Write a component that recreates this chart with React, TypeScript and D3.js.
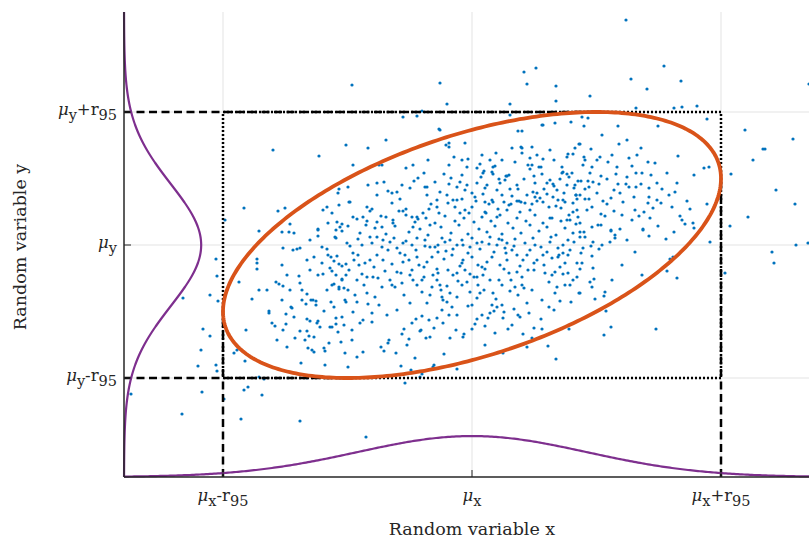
import React from "react";
import * as d3 from "d3";

// Bivariate sample (centred units: x and y measured from their means)
const samples: [number, number][] = [
  [-1.99, 0.95], [-1.53, 0.89], [-1.26, 1.0], [-2.28, 0.37], [-1.94, 0.34], [-1.87, 0.37], [-1.82, 0.21],
  [-2.47, 0.25], [-1.49, 0.35], [-1.45, 0.38], [-1.4, 0.32], [-1.34, 0.52], [-1.33, 0.56], [-1.33, 0.4],
  [-1.24, 0.58], [-1.23, 0.43], [-1.35, 0.23], [-1.3, 0.21], [-1.32, 0.18], [-1.24, 0.19], [-1.54, 0.16],
  [-1.36, 0.15],
  [-1.2, 1.6], [-0.32, 1.62], [-0.25, 1.41], [-0.5, 1.34], [-0.69, 1.28], [-0.55, 1.29], [0.52, 1.73],
  [0.55, 1.61], [0.64, 1.77], [0.38, 1.41], [0.38, 1.3], [0.84, 1.59], [0.84, 1.44], [0.7, 1.2], [0.71, 1.2],
  [0.83, 1.22], [0.99, 1.23], [-0.33, 1.16], [-0.32, 1.15], [0.46, 1.14], [0.5, 1.14], [-0.86, 1.05],
  [-1.04, 0.97], [-0.07, 1.02], [-0.26, 1.0], [-0.23, 1.02], [-0.23, 0.98], [-1.19, 0.8], [-0.93, 0.8],
  [-0.9, 0.8], [-0.44, 0.85], [-0.1, 0.85], [-0.04, 0.86], [0.24, 0.92], [0.3, 0.85], [0.4, 0.97],
  [0.49, 0.98], [0.5, 0.97], [0.5, 0.92], [0.6, 0.98], [0.71, 0.86], [0.82, 0.85], [0.95, 0.88], [0.96, 0.91],
  [1.01, 0.91], [1.03, 0.97], [1.07, 1.01],
  [-0.66, 0.77], [-0.59, 0.8], [-0.88, 0.63], [-1.04, 0.6], [-0.84, 0.54], [-0.8, 0.52], [-0.75, 0.53],
  [-0.62, 0.57], [-0.54, 0.67], [-0.48, 0.72], [-0.47, 0.58], [-0.45, 0.58], [-0.37, 0.63], [-0.32, 0.53],
  [-0.23, 0.61], [-0.23, 0.8], [-0.21, 0.67], [-0.1, 0.7], [-0.07, 0.55], [0.05, 0.77], [0.12, 0.74],
  [0.11, 0.72], [0.09, 0.68], [0.13, 0.57], [0.2, 0.73], [0.21, 0.78], [0.23, 0.79], [0.21, 0.71],
  [0.27, 0.66], [0.33, 0.65], [0.34, 0.69], [0.35, 0.69], [0.37, 0.7], [0.38, 0.56], [0.46, 0.56], [0.56, 0.8],
  [0.58, 0.76], [0.6, 0.8], [0.62, 0.69], [0.63, 0.62], [0.67, 0.78], [0.69, 0.78], [0.7, 0.71], [0.75, 0.62],
  [0.78, 0.65], [0.81, 0.61], [0.82, 0.59], [0.9, 0.78], [0.91, 0.73], [0.9, 0.72], [0.95, 0.71], [0.97, 0.68],
  [1.02, 0.57], [1.03, 0.6], [1.06, 0.64], [1.04, 0.5], [1.05, 0.46], [1.08, 0.5],
  [-1.22, 0.43], [-1.05, 0.38], [-1.0, 0.36], [-1.02, 0.34], [-1.19, 0.28], [-1.15, 0.26], [-1.09, 0.28],
  [-1.06, 0.2], [-0.95, 0.23], [-0.9, 0.18], [-0.86, 0.28], [-0.79, 0.22], [-0.73, 0.34], [-0.69, 0.34],
  [-0.66, 0.36], [-0.6, 0.28], [-0.59, 0.18], [-0.55, 0.28], [-0.54, 0.26], [-0.49, 0.32], [-0.43, 0.36],
  [-0.42, 0.2], [-0.35, 0.38], [-0.33, 0.32], [-0.25, 0.5], [-0.24, 0.42], [-0.19, 0.45], [-0.15, 0.45],
  [-0.17, 0.38], [-0.12, 0.32], [-0.07, 0.35], [-0.03, 0.32], [0.0, 0.38], [0.03, 0.48], [0.04, 0.44],
  [0.11, 0.51], [0.13, 0.43], [0.13, 0.33], [0.14, 0.32], [0.2, 0.45], [0.21, 0.43], [0.25, 0.28], [0.26, 0.36],
  [0.32, 0.43], [0.35, 0.35], [0.37, 0.4], [0.39, 0.41], [0.45, 0.44], [0.47, 0.44], [0.49, 0.43], [0.48, 0.33],
  [0.53, 0.42], [0.58, 0.35], [0.61, 0.53], [0.63, 0.48], [0.65, 0.52], [0.65, 0.44], [0.68, 0.47], [0.71, 0.43],
  [0.75, 0.51], [0.77, 0.38], [0.78, 0.27], [0.81, 0.48], [0.86, 0.45], [0.89, 0.37], [0.91, 0.45], [0.93, 0.43],
  [0.95, 0.25], [0.98, 0.25], [1.01, 0.33], [1.01, 0.42], [1.04, 0.5], [1.05, 0.35], [1.06, 0.28],
  [1.54, 2.25], [1.92, 1.79], [1.59, 1.66], [2.09, 1.64], [1.75, 1.56], [1.18, 1.49], [1.64, 1.37], [2.02, 1.37],
  [2.1, 1.38], [2.25, 1.39], [3.37, 1.61], [2.73, 1.15], [3.21, 1.06], [2.91, 0.96], [2.93, 0.96], [2.81, 0.85],
  [2.59, 0.71], [3.04, 0.55], [3.23, 0.41], [2.76, 0.28], [2.58, 0.19],
  [1.1, 1.28], [1.16, 1.27], [1.12, 1.19], [1.46, 1.19], [1.86, 1.19], [2.35, 1.26], [1.08, 1.01], [1.19, 0.96],
  [1.47, 1.01], [1.69, 0.97], [2.06, 0.89], [1.12, 0.88], [1.13, 0.85], [1.11, 0.8], [1.2, 0.78], [1.18, 0.72],
  [1.28, 0.88], [1.36, 0.83], [1.45, 0.78], [1.44, 0.71], [1.57, 0.87], [1.6, 0.79], [1.64, 0.72], [1.76, 0.83],
  [1.83, 0.82], [1.79, 0.7], [2.22, 0.7], [2.32, 0.77], [2.37, 0.78],
  [1.09, 0.64], [1.13, 0.56], [1.17, 0.58], [1.21, 0.63], [1.16, 0.64], [1.27, 0.61], [1.29, 0.69], [1.35, 0.66],
  [1.42, 0.55], [1.46, 0.61], [1.54, 0.61], [1.57, 0.58], [1.64, 0.58], [1.69, 0.61], [1.77, 0.57], [1.9, 0.56],
  [1.97, 0.5], [2.03, 0.53], [1.13, 0.46], [1.17, 0.46], [1.31, 0.44], [1.39, 0.47], [1.51, 0.43], [1.63, 0.35],
  [1.72, 0.33], [1.76, 0.42], [1.77, 0.48], [1.81, 0.37], [1.89, 0.42], [2.15, 0.44], [2.18, 0.36], [2.35, 0.41],
  [1.29, 0.31], [1.33, 0.29], [1.42, 0.34], [1.6, 0.25], [1.67, 0.29], [1.78, 0.27], [2.08, 0.29], [2.1, 0.25],
  [2.13, 0.21], [1.08, 0.22], [1.2, 0.18], [1.26, 0.2], [1.29, 0.2], [1.39, 0.15], [1.48, 0.16], [1.71, 0.16],
  [1.86, 0.19], [2.21, 0.22], [2.22, 0.17],
  [1.08, 0.13], [1.12, 0.13], [1.13, 0.08], [1.08, 0.08], [1.39, 0.14], [1.43, 0.1], [1.43, 0.07], [1.38, 0.03],
  [1.77, 0.09], [1.94, 0.06], [2.02, 0.13], [1.71, 0.15], [2.38, 0.03], [1.21, 0.03], [1.19, -0.01],
  [1.27, -0.04], [1.11, -0.03], [1.09, -0.08], [1.2, -0.11], [1.1, -0.18], [1.08, -0.24], [1.21, -0.23],
  [1.63, -0.07], [1.98, -0.14], [2.01, -0.12], [1.95, -0.26], [2.05, -0.33], [2.53, -0.28], [1.22, -0.34],
  [1.18, -0.37], [1.2, -0.42], [1.08, -0.48], [1.23, -0.54], [1.33, -0.47], [1.32, -0.51], [1.34, -0.66],
  [1.39, -0.82], [1.32, -0.9], [1.84, -0.84], [3.0, -0.07], [3.02, -0.18], [3.24, 0.0], [3.36, 0.02],
  [-2.56, -0.14], [-2.55, -0.31], [-2.62, -0.5], [-2.54, -0.56], [-2.89, -0.53], [-2.69, -0.84], [-2.62, -0.91],
  [-2.71, -1.05], [-2.74, -1.21], [-2.56, -1.2], [-2.55, -1.26], [-3.41, -1.49], [-2.7, -1.47], [-2.9, -1.69],
  [-2.48, -1.54], [-2.28, -1.45], [-2.24, -1.42], [-2.1, -1.5], [-2.31, -1.74], [-1.72, -1.76], [-2.13, -1.32],
  [-2.08, -1.34], [-1.65, -1.33], [-2.33, -0.37], [-2.13, -0.45], [-2.2, -0.54], [-2.26, -0.85], [-2.38, -1.08],
  [-2.35, -1.05], [-2.27, -1.16], [-2.13, 0.14], [-1.9, 0.13], [-1.83, 0.13], [-1.78, 0.12], [-1.54, 0.15],
  [-1.54, 0.09], [-1.37, 0.08], [-1.36, 0.07], [-1.3, 0.14], [-2.15, -0.14], [-2.15, -0.18], [-2.15, -0.24],
  [-1.89, -0.03], [-1.79, -0.05], [-1.75, -0.04], [-1.72, -0.03], [-1.58, -0.12], [-1.5, -0.02], [-1.45, -0.04],
  [-1.44, -0.1], [-1.41, -0.12], [-1.35, -0.11], [-1.38, -0.16], [-1.33, -0.19], [-1.3, -0.21], [-1.26, -0.19],
  [-1.42, -0.23], [-1.4, -0.26], [-1.62, -0.25], [-1.85, -0.3], [-1.73, -0.31], [-1.54, -0.3], [-1.49, -0.29],
  [-1.36, -0.3], [-1.3, -0.34], [-1.26, -0.3], [-1.23, -0.25], [-1.96, -0.37], [-1.93, -0.39], [-1.89, -0.41],
  [-1.82, -0.45], [-1.72, -0.38], [-1.65, -0.49], [-1.7, -0.55], [-1.61, -0.55], [-1.59, -0.55], [-1.56, -0.56],
  [-1.56, -0.6], [-1.66, -0.59], [-1.81, -0.62], [-1.8, -0.63], [-2.03, -0.66], [-2.03, -0.68], [-1.86, -0.69],
  [-2.0, -0.78], [-1.97, -0.81], [-1.89, -0.85], [-1.86, -0.79], [-1.72, -0.86], [-1.65, -0.86], [-1.63, -0.91],
  [-1.77, -0.93], [-1.67, -0.95], [-1.64, -1.03], [-1.6, -1.05], [-1.58, -1.07], [-1.52, -0.82], [-1.55, -0.78],
  [-1.54, -0.76], [-1.65, -0.74], [-1.62, -0.76], [-1.41, -0.57], [-1.42, -0.82], [-1.4, -0.82], [-1.36, -0.79],
  [-1.36, -0.73], [-1.3, -0.72], [-1.34, -0.87], [-1.31, -0.97], [-1.27, -1.08], [-1.24, -1.22], [-1.47, -1.2],
  [-1.71, -1.18], [-1.43, -0.98], [-1.48, -1.03], [-1.47, -1.06], [-1.27, -0.55], [-1.26, -0.57], [-1.24, -0.45],
  [-1.33, -0.42], [-1.33, -0.44], [-1.28, -0.43], [-1.38, -0.39], [-1.4, -0.4], [-1.3, -0.35],
  [-0.67, -1.38], [-1.06, -1.92], [0.84, -1.14], [0.76, -1.01], [0.13, -1.0], [0.31, -1.08], [-0.15, -1.24],
  [-0.28, -1.09], [-0.38, -1.2], [-0.39, -1.22], [-0.5, -1.29], [-0.52, -1.32], [-0.61, -1.25], [-0.57, -1.13],
  [-0.71, -1.21], [-0.76, -1.08], [-0.88, -1.06], [-0.91, -1.02], [-0.84, -0.98], [-1.09, -1.07], [-1.15, -1.12],
  [-0.65, -1.0], [-0.63, -0.94], [-0.7, -0.89], [-0.83, -0.95],
  [-0.46, -0.93], [-0.42, -0.92], [-0.51, -0.85], [-0.52, -0.86], [-0.56, -0.74], [-0.43, -0.75], [-0.5, -0.71],
  [-0.35, -0.73], [-0.29, -0.78], [-0.23, -0.7], [-0.16, -0.85], [-0.09, -0.92], [-0.08, -0.89], [-0.04, -0.61],
  [0.05, -0.74], [0.03, -0.79], [0.13, -0.81], [0.16, -0.73], [0.18, -0.68], [0.22, -0.66], [0.25, -0.62],
  [0.32, -0.67], [0.31, -0.73], [0.36, -0.84], [0.42, -0.64], [0.48, -0.72], [0.51, -0.89], [0.55, -1.02],
  [0.6, -0.93], [0.57, -0.68], [0.69, -0.74], [0.7, -0.84], [0.82, -0.65], [0.88, -0.56], [0.97, -0.84],
  [0.99, -0.57], [0.83, -0.27], [0.91, -0.29], [0.96, -0.28], [0.98, -0.4], [1.01, -0.35], [1.05, -0.32],
  [1.07, -0.48], [0.86, -0.12], [0.87, -0.1], [0.91, 0.0], [0.96, 0.05],
  [-1.22, -0.01], [-1.1, 0.0], [-1.19, -0.08], [-1.14, -0.1], [-1.07, -0.18], [-1.02, -0.15], [-1.05, -0.32],
  [-0.99, -0.32], [-0.94, -0.33], [-1.1, -0.29], [-1.17, -0.5], [-1.15, -0.57], [-1.19, -0.67], [-1.2, -0.85],
  [-1.09, -0.75], [-1.12, -0.78], [-1.0, -0.68], [-1.0, -0.77], [-1.05, -0.48], [-1.04, -0.59], [-0.97, -0.52],
  [-0.89, -0.15], [-0.87, -0.26], [-0.82, -0.35], [-0.8, -0.4], [-0.77, -0.42], [-0.75, -0.27], [-0.71, -0.28],
  [-0.69, -0.17], [-0.67, -0.1], [-0.63, -0.15], [-0.6, -0.25], [-0.59, -0.35], [-0.55, -0.4], [-0.5, -0.35],
  [-0.5, -0.47], [-0.48, -0.32], [-0.45, -0.17], [-0.4, -0.12], [-0.37, -0.02], [-0.34, 0.0], [-0.35, -0.24],
  [-0.34, -0.28], [-0.35, -0.35], [-0.32, -0.4], [-0.31, -0.45], [-0.3, -0.52], [-0.29, -0.55], [-0.25, -0.57],
  [-0.22, -0.48], [-0.25, -0.41], [-0.24, -0.25], [-0.19, -0.3], [-0.15, -0.28], [-0.1, -0.18], [-0.09, -0.15],
  [-0.07, -0.25], [-0.05, -0.37], [-0.02, -0.29], [-0.02, -0.47], [0.02, -0.32], [0.05, -0.32], [0.06, -0.4],
  [0.08, -0.48], [0.1, -0.22], [0.13, -0.24], [0.15, -0.17], [0.18, -0.35], [0.21, -0.48], [0.24, -0.54],
  [0.3, -0.4], [0.34, -0.08], [0.37, -0.28], [0.39, -0.35], [0.43, -0.42], [0.45, -0.27], [0.5, -0.32],
  [0.52, -0.43], [0.56, -0.25], [0.62, -0.25], [0.73, -0.28], [0.77, -0.37], [0.83, -0.48], [0.85, -0.42],
  [0.93, -0.4], [1.05, -0.18], [0.98, -0.05], [0.91, -0.08], [0.78, 0.03], [0.71, -0.1], [0.65, -0.15],
  [0.58, -0.05], [0.51, -0.15], [0.45, -0.1], [0.4, -0.05], [0.35, 0.02], [0.3, 0.05], [0.25, 0.0], [0.18, 0.08],
  [0.1, 0.03], [0.05, 0.02], [-0.02, -0.02], [-0.09, 0.0], [-0.15, 0.0], [-0.22, 0.05], [-0.27, 0.03],
  [-0.34, -0.07], [-0.42, -0.02], [-0.47, 0.05], [-0.55, 0.07], [-0.6, 0.0], [-0.69, 0.02], [-0.75, -0.03],
  [-0.82, 0.03], [-0.89, 0.05], [-0.95, 0.08], [-1.02, 0.08],
  [-1.12, 0.12], [-0.97, 0.17], [-0.86, 0.11], [-0.77, 0.19], [-0.63, 0.13], [-0.52, 0.16], [-0.44, 0.1],
  [-0.31, 0.18], [-0.21, 0.12], [-0.13, 0.2], [-0.04, 0.11], [0.07, 0.16], [0.15, 0.13], [0.23, 0.19],
  [0.3, 0.11], [0.41, 0.17], [0.49, 0.12], [0.58, 0.2], [0.67, 0.14], [0.75, 0.18], [0.84, 0.1], [0.93, 0.17],
  [1.01, 0.12], [-1.05, 0.24], [-0.91, 0.29], [-0.79, 0.25], [-0.66, 0.3], [-0.57, 0.23], [-0.46, 0.27],
  [-0.37, 0.22], [-0.27, 0.29], [-0.17, 0.24], [-0.08, 0.27], [0.02, 0.23], [0.1, 0.28], [0.19, 0.24],
  [0.28, 0.3], [0.36, 0.22], [0.45, 0.27], [0.54, 0.24], [0.63, 0.3], [0.71, 0.22], [0.8, 0.27], [0.89, 0.24],
  [0.97, 0.3], [1.04, 0.21], [-1.14, 0.06], [-1.0, 0.02], [-0.9, -0.02], [-0.78, 0.07], [-0.66, 0.04],
  [-0.56, -0.05], [-0.47, -0.01], [-0.3, 0.07], [-0.19, -0.04], [-0.1, 0.05], [0.0, 0.07], [0.08, -0.04],
  [0.17, 0.01], [0.27, 0.06], [0.33, -0.03], [0.43, 0.06], [0.53, 0.02], [0.61, 0.07], [0.69, -0.02],
  [0.79, 0.08], [0.86, -0.03], [1.02, 0.03], [-1.13, -0.2], [-0.95, -0.1], [-0.8, -0.19], [-0.72, -0.08],
  [-0.55, -0.12], [-0.48, -0.22], [-0.28, -0.14], [-0.2, -0.1], [-0.12, -0.21], [0.0, -0.12], [0.06, -0.2],
  [0.2, -0.12], [0.28, -0.2], [0.35, -0.15], [0.48, -0.21], [0.55, -0.1], [0.62, -0.18], [0.72, -0.2],
  [0.8, -0.13], [0.93, -0.18], [-0.9, -0.42], [-0.68, -0.5], [-0.45, -0.58], [-0.4, -0.42], [-0.15, -0.52],
  [-0.1, -0.4], [0.0, -0.6], [0.12, -0.45], [0.3, -0.6], [0.46, -0.5], [0.6, -0.45], [0.7, -0.55], [0.8, -0.3],
  [0.27, -0.35], [-0.62, -0.3], [-0.93, -0.6], [-0.75, -0.65], [-0.6, -0.78], [-0.3, -0.65], [0.1, -0.7],
  [0.4, -0.8], [-0.15, -0.7], [0.15, 0.6], [0.25, 0.55], [0.05, 0.62], [-0.05, 0.6], [-0.15, 0.58],
  [-0.35, 0.45], [-0.45, 0.5], [0.45, 0.6], [0.55, 0.5], [0.85, 0.55], [0.95, 0.6], [0.18, 0.85], [0.1, 0.9],
  [-0.05, 0.78], [0.65, 0.9], [0.78, 0.95], [0.88, 0.66], [-0.8, 0.42], [-0.95, 0.5], [-0.7, 0.6], [0.3, 0.5],
  [-0.1, 0.46],
  [-0.95, 0.62], [-0.72, 0.46], [-0.58, 0.64], [-0.41, 0.41], [-0.28, 0.71], [-0.12, 0.63], [0.0, 0.52],
  [0.08, 0.81], [0.17, 0.41], [0.28, 0.62], [0.4, 0.49], [0.52, 0.66], [0.6, 0.41], [0.72, 0.56], [0.84, 0.39],
  [0.92, 0.52], [1.0, 0.72], [0.43, 0.83], [-0.18, 0.88], [0.58, 0.87],
  [-1.08, -0.4], [-0.98, -0.22], [-0.84, -0.05], [-0.7, -0.38], [-0.53, -0.2], [-0.39, -0.3], [-0.26, -0.06],
  [-0.14, -0.36], [-0.04, -0.08], [0.11, -0.3], [0.22, -0.07], [0.32, -0.24], [0.42, -0.01], [0.5, -0.4],
  [0.63, 0.0], [0.75, -0.07], [0.88, -0.22], [0.96, -0.1], [-0.62, -0.58], [-0.42, -0.5], [-0.2, -0.62],
  [0.05, -0.53], [0.2, -0.6], [0.38, -0.46], [0.55, -0.58], [0.77, -0.62], [-0.85, -0.7], [-0.68, -0.84],
  [-0.38, -0.83], [-0.22, -0.93], [0.0, -0.84], [0.23, -0.88], [0.46, -0.7], [0.62, -0.83],
  [-1.9, -0.55], [-1.78, -0.72], [-1.7, -0.45], [-1.58, -0.92], [-1.48, -0.66], [-1.45, -0.45], [-1.38, -0.62],
  [-1.28, -0.8], [-1.2, -0.95], [-1.15, -0.35], [-1.9, -0.2], [-1.65, -0.15], [-1.5, -0.18], [-1.62, 0.05],
  [-1.25, 0.02], [-1.44, 0.22], [-1.18, -0.15], [-2.05, -0.45], [-1.95, -0.95], [-1.85, -1.02],
  [1.15, 0.35], [1.25, 0.52], [1.35, 0.41], [1.48, 0.52], [1.55, 0.68], [1.62, 0.48], [1.7, 0.72], [1.85, 0.62],
  [1.95, 0.72], [2.05, 0.62], [1.4, 0.9], [1.55, 1.05], [1.3, 1.1], [1.2, 0.38], [1.5, 0.3], [1.85, 0.45],
  [2.0, 0.38], [1.3, 0.0], [1.55, 0.05], [1.5, -0.2], [1.7, -0.3], [1.4, -0.35], [1.25, 0.85], [1.65, 0.9],
];

// Distribution summary
const meanX = 0;
const meanY = 0;
const sigmaX = 1.15;
const sigmaY = 0.61;
const r95X = 2.49;
const r95Y = 1.33;
const rho = 0.5;

// Axis extents and tick labels
const xDomain: [number, number] = [-3.48, 3.43];
const yDomain: [number, number] = [-2.32, 2.33];
type Part = { t: string; italic?: boolean; sub?: boolean };
const xTickLabels: Part[][] = [
  [{ t: "μ", italic: true }, { t: "x", sub: true }, { t: "-r" }, { t: "95", sub: true }],
  [{ t: "μ", italic: true }, { t: "x", sub: true }],
  [{ t: "μ", italic: true }, { t: "x", sub: true }, { t: "+r" }, { t: "95", sub: true }],
];
const yTickLabels: Part[][] = [
  [{ t: "μ", italic: true }, { t: "y", sub: true }, { t: "-r" }, { t: "95", sub: true }],
  [{ t: "μ", italic: true }, { t: "y", sub: true }],
  [{ t: "μ", italic: true }, { t: "y", sub: true }, { t: "+r" }, { t: "95", sub: true }],
];
const xAxisTitle = "Random variable x";
const yAxisTitle = "Random variable y";

const W = 809;
const H = 538;
const FONT = "'DejaVu Serif', 'Liberation Serif', serif";
const INK = "#262626";

function TexLabel({ parts, x, y, anchor }: { parts: Part[]; x: number; y: number; anchor: string }) {
  const shift = 5;
  let down = false;
  return (
    <text x={x} y={y} textAnchor={anchor} fontFamily={FONT} fontSize={16.5} fill={INK}>
      {parts.map((p, i) => {
        let dy = 0;
        if (p.sub && !down) { dy = shift; down = true; }
        else if (!p.sub && down) { dy = -shift; down = false; }
        return (
          <tspan key={i} dy={dy} fontStyle={p.italic ? "italic" : "normal"} fontSize={p.sub ? 14.5 : 16.5}>
            {p.t}
          </tspan>
        );
      })}
    </text>
  );
}

export default function App() {
  const left = 124, right = 815, top = 12, bottom = 477;
  const x = d3.scaleLinear().domain(xDomain).range([left, right]);
  const y = d3.scaleLinear().domain(yDomain).range([bottom, top]);
  // pdf height in pixels per unit of density
  const pdfPx = d3.scaleLinear().domain([0, 1]).range([0, 118]);

  const xTicks = [meanX - r95X, meanX, meanX + r95X];
  const yTicks = [meanY - r95Y, meanY, meanY + r95Y];

  // 95% confidence ellipse
  const ts = d3.range(0, 2 * Math.PI + 0.001, Math.PI / 180);
  const ellipse = d3.line<number>()
    .x((t) => x(meanX + r95X * Math.cos(t)))
    .y((t) => y(meanY + r95Y * (rho * Math.cos(t) + Math.sqrt(1 - rho * rho) * Math.sin(t))))(ts);

  const normal = (v: number, m: number, s: number) =>
    Math.exp(-((v - m) ** 2) / (2 * s * s)) / (s * Math.sqrt(2 * Math.PI));

  const xs = d3.range(xDomain[0], xDomain[1] + 0.001, 0.02);
  const xPdf = d3.line<number>().x((v) => x(v)).y((v) => bottom - pdfPx(normal(v, meanX, sigmaX)))(xs);
  const ys = d3.range(yDomain[0], yDomain[1] + 0.001, 0.01);
  const yPdf = d3.line<number>().x((v) => left + pdfPx(normal(v, meanY, sigmaY))).y((v) => y(v))(ys);

  // tangent points of the ellipse on its bounding box
  const topTx = meanX + rho * r95X;
  const botTx = meanX - rho * r95X;
  const leftTy = meanY - rho * r95Y;
  const rightTy = meanY + rho * r95Y;

  const dash = { stroke: "#000", strokeWidth: 2.5, strokeDasharray: "8 4.5", fill: "none" };

  return (
    <svg width={W} height={H} style={{ position: "fixed", left: 0, top: 0, background: "#fff" }}>
      {/* grid */}
      {xTicks.map((t, i) => (
        <line key={"gx" + i} x1={x(t)} x2={x(t)} y1={top} y2={bottom} stroke="#e3e3e3" strokeWidth={1} />
      ))}
      {yTicks.map((t, i) => (
        <line key={"gy" + i} x1={left} x2={right} y1={y(t)} y2={y(t)} stroke="#e3e3e3" strokeWidth={1} />
      ))}

      {/* samples */}
      <g fill="#0072BD">
        {samples.map((p, i) => (
          <circle key={i} cx={x(p[0])} cy={y(p[1])} r={1.6} />
        ))}
      </g>

      {/* bounding box of the ellipse */}
      <rect x={x(meanX - r95X)} y={y(meanY + r95Y)} width={x(meanX + r95X) - x(meanX - r95X)}
        height={y(meanY - r95Y) - y(meanY + r95Y)} fill="none" stroke="#000" strokeWidth={2.5}
        strokeDasharray="2 2" />

      {/* projections from the tangent points to the axes */}
      <line x1={left} x2={x(topTx)} y1={y(meanY + r95Y)} y2={y(meanY + r95Y)} {...dash} />
      <line x1={left} x2={x(botTx)} y1={y(meanY - r95Y)} y2={y(meanY - r95Y)} {...dash} />
      <line x1={x(meanX - r95X)} x2={x(meanX - r95X)} y1={bottom} y2={y(leftTy)} {...dash} />
      <line x1={x(meanX + r95X)} x2={x(meanX + r95X)} y1={bottom} y2={y(rightTy)} {...dash} />

      <path d={ellipse ?? ""} fill="none" stroke="#D95319" strokeWidth={3.8} />

      {/* marginal densities */}
      <path d={xPdf ?? ""} fill="none" stroke="#7E2F8E" strokeWidth={2.2} />
      <path d={yPdf ?? ""} fill="none" stroke="#7E2F8E" strokeWidth={2.2} />

      {/* axes */}
      <line x1={left} x2={left} y1={top} y2={bottom} stroke={INK} strokeWidth={1.5} />
      <line x1={left} x2={right} y1={bottom} y2={bottom} stroke={INK} strokeWidth={1.5} />
      {xTicks.map((t, i) => (
        <line key={"tx" + i} x1={x(t)} x2={x(t)} y1={bottom} y2={bottom - 7} stroke={INK} strokeWidth={1} />
      ))}
      {yTicks.map((t, i) => (
        <line key={"ty" + i} x1={left} x2={left + 7} y1={y(t)} y2={y(t)} stroke={INK} strokeWidth={1} />
      ))}

      {xTicks.map((t, i) => (
        <TexLabel key={"lx" + i} parts={xTickLabels[i]} x={x(t)} y={bottom + 24} anchor="middle" />
      ))}
      {yTicks.map((t, i) => (
        <TexLabel key={"ly" + i} parts={yTickLabels[i]} x={left - 7} y={y(t) + 3} anchor="end" />
      ))}

      <text x={472} y={535} textAnchor="middle" fontFamily={FONT} fontSize={17.5} fill={INK}>
        {xAxisTitle}
      </text>
      <text transform={`translate(26, 247) rotate(-90)`} textAnchor="middle" fontFamily={FONT} fontSize={17.5} fill={INK}>
        {yAxisTitle}
      </text>
    </svg>
  );
}
